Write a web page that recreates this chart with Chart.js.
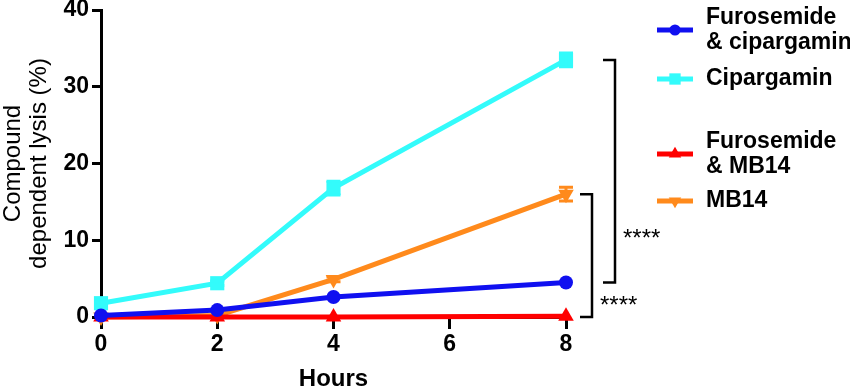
<!DOCTYPE html>
<html>
<head>
<meta charset="utf-8">
<script src="https://cdn.jsdelivr.net/npm/chart.js@4.4.1/dist/chart.umd.min.js"></script>
<style>
  html, body { margin: 0; padding: 0; background: #fff; }
  #wrap { width: 850px; height: 390px; }
</style>
</head>
<body>
<div id="wrap"><canvas id="lysis"></canvas></div>
<script>
// Hours after treatment
const hours = [0, 2, 4, 8];
const yTicks = [0, 10, 20, 30, 40];

// Compound dependent lysis (%) per series
const furoCipargamin = [0.2, 0.9, 2.6, 4.5];
const cipargamin = [1.8, 4.4, 16.8, 33.5];
const furoMB14 = [0.0, 0.0, 0.0, 0.1];
const mb14 = [0.0, 0.2, 4.9, 16.0];

// SEM
const cipargaminErr = [0.2, 0.3, 0.9, 0.9];
const mb14Err = [0, 0, 0.3, 0.9];

// significance brackets: [top value, bottom value, label]
const brackets = [
    [33.5, 4.5, '****'],
    [16.0, 0.0, '****']
];

const FONT = "'Liberation Sans', Arial, Helvetica, sans-serif";

const series = [
    { label: ['Furosemide', '& cipargamin'], data: furoCipargamin, color: '#1010f0', style: 'circle', rot: 0, r: 7 },
    { label: ['Cipargamin'], data: cipargamin, color: '#33fbfb', style: 'rect', rot: 0, r: 10, err: cipargaminErr },
    { label: ['Furosemide', '& MB14'], data: furoMB14, color: '#ff0000', style: 'triangle', rot: 0, r: 9 },
    { label: ['MB14'], data: mb14, color: '#ff8a1c', style: 'triangle', rot: 180, r: 9, err: mb14Err }
];

// error bars with caps
const errorBars = {
    id: 'errorBars',
    afterDatasetsDraw(chart) {
        const { ctx, scales: { x, y } } = chart;
        ctx.save();
        series.forEach((s) => {
            if (!s.err) return;
            ctx.strokeStyle = s.color;
            ctx.lineWidth = 3;
            s.data.forEach((v, i) => {
                const e = s.err[i];
                if (!e) return;
                const px = x.getPixelForValue(hours[i]);
                const y1 = y.getPixelForValue(v + e);
                const y2 = y.getPixelForValue(v - e);
                ctx.beginPath();
                ctx.moveTo(px, y1); ctx.lineTo(px, y2);
                ctx.moveTo(px - 7, y1); ctx.lineTo(px + 7, y1);
                ctx.moveTo(px - 7, y2); ctx.lineTo(px + 7, y2);
                ctx.stroke();
            });
        });
        ctx.restore();
    }
};

// significance brackets and the legend on the right
const sideDecor = {
    id: 'sideDecor',
    afterDraw(chart) {
        const { ctx, chartArea, scales: { y } } = chart;
        ctx.save();
        ctx.strokeStyle = '#000';
        ctx.lineWidth = 2.5;
        ctx.fillStyle = '#000';
        ctx.font = '24px ' + FONT;
        ctx.textBaseline = 'middle';
        const offsets = [[37, 49, 57, 0.21], [14, 26, 34, 0.12]];
        brackets.forEach((b, i) => {
            const [x0, x1, tx, frac] = offsets[i].map((o, k) => k < 3 ? chartArea.right + o : o);
            const yt = y.getPixelForValue(b[0]);
            const yb = y.getPixelForValue(b[1]);
            ctx.beginPath();
            ctx.moveTo(x0, yt); ctx.lineTo(x1, yt); ctx.lineTo(x1, yb); ctx.lineTo(x0, yb);
            ctx.stroke();
            ctx.fillText(b[2], tx, yb - (yb - yt) * frac + 4);
        });

        // legend
        const rows = [30, 79, 154, 201];
        ctx.font = 'bold 23px ' + FONT;
        series.forEach((s, i) => {
            const cy = rows[i];
            ctx.strokeStyle = s.color;
            ctx.lineWidth = 5;
            ctx.beginPath();
            ctx.moveTo(657, cy); ctx.lineTo(693, cy);
            ctx.stroke();
            ctx.fillStyle = s.color;
            Chart.helpers.drawPoint(ctx, { pointStyle: s.style, radius: s.r * 0.8, rotation: s.rot, borderWidth: 0 }, 675, cy);
            ctx.fillStyle = '#000';
            const lh = 25;
            const start = cy - (s.label.length - 1) * lh / 2;
            s.label.forEach((t, k) => ctx.fillText(t, 706, start + k * lh));
        });
        ctx.restore();
    }
};

new Chart(document.getElementById('lysis'), {
    type: 'line',
    data: {
        datasets: series.map((s) => ({
            label: s.label.join(' '),
            data: hours.map((h, i) => ({ x: h, y: s.data[i] })),
            borderColor: s.color,
            backgroundColor: s.color,
            borderWidth: 5,
            pointStyle: s.style,
            pointRotation: s.rot,
            pointRadius: s.r,
            pointBorderWidth: 0,
            tension: 0,
            clip: false
        }))
    },
    options: {
        responsive: true,
        maintainAspectRatio: false,
        animation: false,
        layout: { padding: { left: 0, top: 8, right: 284, bottom: 0 } },
        plugins: { legend: { display: false }, tooltip: { enabled: false } },
        scales: {
            x: {
                type: 'linear',
                min: 0, max: 8,
                afterFit: (s) => { s.height = 73; },
                ticks: { stepSize: 2, color: '#000', padding: 2, font: { family: FONT, size: 23, weight: 'bold' } },
                grid: { drawOnChartArea: false, drawTicks: true, tickLength: 12, tickWidth: 3, tickColor: '#000' },
                border: { display: true, color: '#000', width: 3 },
                title: { display: true, text: 'Hours', color: '#000', padding: { top: 19, bottom: -4 }, font: { family: FONT, size: 24, weight: 'bold' } }
            },
            y: {
                min: 0, max: 40,
                afterFit: (s) => { s.width = 101; },
                afterBuildTicks: (s) => { s.ticks = yTicks.map((v) => ({ value: v })); },
                ticks: { color: '#000', padding: 3, font: { family: FONT, size: 23, weight: 'bold', lineHeight: 0.6 } },
                grid: { drawOnChartArea: false, drawTicks: true, tickLength: 9, tickWidth: 3, tickColor: '#000' },
                border: { display: true, color: '#000', width: 3 },
                title: { display: true, text: ['Compound', 'dependent lysis (%)'], color: '#000', padding: { top: 0, bottom: 0 }, font: { family: FONT, size: 24, lineHeight: 1.08 } }
            }
        }
    },
    plugins: [errorBars, sideDecor]
});
</script>
</body>
</html>
